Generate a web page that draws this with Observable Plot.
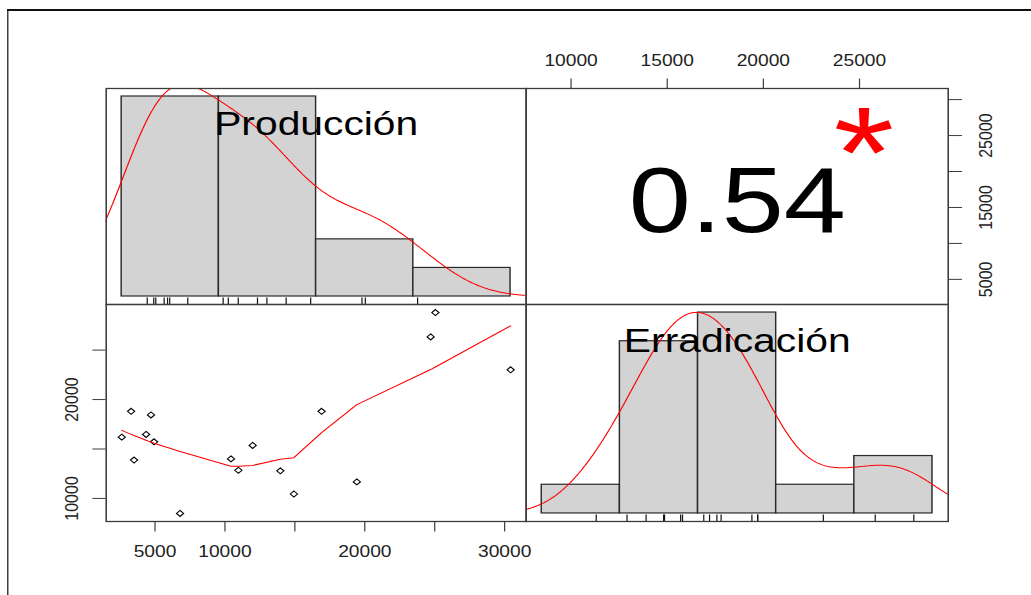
<!DOCTYPE html>
<html>
<head>
<meta charset="utf-8">
<script src="https://cdn.jsdelivr.net/npm/d3@7"></script>
<script src="https://cdn.jsdelivr.net/npm/@observablehq/plot@0.6"></script>
<style>
  html, body { margin: 0; padding: 0; background: #fff; width: 1031px; height: 595px; overflow: hidden; }
  #stage { position: absolute; left: 0; top: 0; width: 860px; height: 595px; transform: scaleX(1.2); transform-origin: 0 0; }
  #outer { position: absolute; left: 5.6px; top: 9px; width: 1000px; height: 800px; border-left: 1.5px solid #111; border-top: 2px solid #111; }
  #stage svg { position: absolute; overflow: visible; max-width: none; }
</style>
</head>
<body>
<div id="stage"><div id="outer"></div></div>
<script>
// ---------------- data ----------------
const variables = ["Producción", "Erradicación"];
const produccion   = [2620, 3290, 3500, 4360, 4710, 4930, 6790, 10430, 10960, 11980, 13960, 14930, 16910, 19430, 24710, 25050, 30430];
const erradicacion = [16200, 18810, 13880, 16470, 18440, 15730, 8480, 14000, 12850, 15360, 12790, 10450, 18810, 11670, 26330, 28800, 23010];
const produccionBreaks   = [0, 10000, 20000, 30000, 40000];
const erradicacionBreaks = [5000, 10000, 15000, 20000, 25000, 30000];
const correlationText = "0.54";
const significanceText = "*";
// axis ticks and the labels R kept
const bottomTicks  = [5000, 10000, 15000, 20000, 25000, 30000];
const bottomLabels = [5000, 10000, 20000, 30000];
const leftTicks    = [10000, 15000, 20000, 25000];
const leftLabels   = [10000, 20000];
const topTicks     = [10000, 15000, 20000, 25000];
const topLabels    = [10000, 15000, 20000, 25000];
const rightTicks   = [5000, 10000, 15000, 20000, 25000, 30000];
const rightLabels  = [5000, 15000, 25000];

// ---------------- helpers (R defaults) ----------------
const ext4 = ([a, b]) => [a - 0.04 * (b - a), b + 0.04 * (b - a)];

function histBins(values, breaks) {
  const n = values.length;
  return d3.range(breaks.length - 1).map(i => {
    const a = breaks[i], b = breaks[i + 1];
    const c = values.filter(v => (i === 0 ? v >= a : v > a) && v <= b).length;
    return {x1: a, x2: b, density: c / (n * (b - a))};
  });
}

function kde(values, m = 512) {
  const sd = d3.deviation(values);
  const iqr = d3.quantile(values, 0.75) - d3.quantile(values, 0.25);
  const bw = 0.9 * Math.min(sd, iqr / 1.34) * Math.pow(values.length, -0.2);
  const [mn, mx] = d3.extent(values);
  const from = mn - 3 * bw, to = mx + 3 * bw;
  return d3.range(m).map(i => {
    const x = from + i * (to - from) / (m - 1);
    const y = d3.mean(values, v => Math.exp(-0.5 * ((x - v) / bw) ** 2)) / (bw * Math.sqrt(2 * Math.PI));
    return {x, y};
  });
}

function lowess(xs, ys, f = 2 / 3, iter = 3) {
  const idx = d3.range(xs.length).sort((a, b) => xs[a] - xs[b]);
  const x = idx.map(i => xs[i]), y = idx.map(i => ys[i]);
  const n = x.length;
  const delta = 0.01 * (x[n - 1] - x[0]);
  const ns = Math.max(2, Math.min(n, Math.floor(f * n + 1e-7)));
  const fit = new Array(n).fill(0), res = new Array(n).fill(0), rw = new Array(n).fill(1), w = new Array(n).fill(0);
  function lowest(xs0, nleft, nright, userw) {
    const range = x[n - 1] - x[0];
    const h = Math.max(xs0 - x[nleft], x[nright] - xs0);
    const h9 = 0.999 * h, h1 = 0.001 * h;
    let a = 0, j = nleft;
    while (j < n) {
      w[j] = 0;
      const r = Math.abs(x[j] - xs0);
      if (r <= h9) {
        w[j] = r <= h1 ? 1 : Math.pow(1 - Math.pow(r / h, 3), 3);
        if (userw) w[j] *= rw[j];
        a += w[j];
      } else if (x[j] > xs0) break;
      j++;
    }
    const nrt = j - 1;
    if (a <= 0) return null;
    for (j = nleft; j <= nrt; j++) w[j] /= a;
    if (h > 0) {
      a = 0;
      for (j = nleft; j <= nrt; j++) a += w[j] * x[j];
      let b = xs0 - a, c = 0;
      for (j = nleft; j <= nrt; j++) c += w[j] * (x[j] - a) * (x[j] - a);
      if (Math.sqrt(c) > 0.001 * range) {
        b /= c;
        for (j = nleft; j <= nrt; j++) w[j] *= (b * (x[j] - a) + 1);
      }
    }
    let s = 0;
    for (j = nleft; j <= nrt; j++) s += w[j] * y[j];
    return s;
  }
  for (let it = 1; it <= iter + 1; it++) {
    let nleft = 0, nright = ns - 1, last = -1, i = 0;
    for (;;) {
      if (nright < n - 1) {
        const d1 = x[i] - x[nleft], d2 = x[nright + 1] - x[i];
        if (d1 > d2) { nleft++; nright++; continue; }
      }
      const v = lowest(x[i], nleft, nright, it > 1);
      fit[i] = v === null ? y[i] : v;
      if (last < i - 1) {
        const denom = x[i] - x[last];
        for (let j = last + 1; j < i; j++) {
          const alpha = (x[j] - x[last]) / denom;
          fit[j] = alpha * fit[i] + (1 - alpha) * fit[last];
        }
      }
      last = i;
      const cut = x[last] + delta;
      for (i = last + 1; i < n; i++) {
        if (x[i] > cut) break;
        if (x[i] === x[last]) { fit[i] = fit[last]; last = i; }
      }
      i = Math.max(last + 1, i - 1);
      if (last >= n - 1) break;
    }
    for (let k = 0; k < n; k++) res[k] = y[k] - fit[k];
    const sc = d3.sum(res, r => Math.abs(r)) / n;
    if (it > iter) break;
    const ar = res.map(Math.abs).sort((a, b) => a - b);
    const m1 = Math.floor(n / 2);
    const cmad = n % 2 === 0 ? 3 * (ar[m1 - 1] + ar[m1]) : 6 * ar[m1];
    if (cmad < 1e-7 * sc) break;
    const c9 = 0.999 * cmad, c1 = 0.001 * cmad;
    for (let k = 0; k < n; k++) {
      const r = Math.abs(res[k]);
      rw[k] = r <= c1 ? 1 : r <= c9 ? Math.pow(1 - Math.pow(r / cmad, 2), 2) : 0;
    }
  }
  return x.map((xv, k) => ({x: xv, y: fit[k]}));
}

// ---------------- layout (unstretched px; the stage is stretched 1.2x horizontally) ----------------
const PL = 87.5, PM = 437.5, PR = 789.2, PT = 88, PY = 304, PB = 521;
const FONT = "Liberation Sans, Arial, sans-serif";
const BOX = "#3c3c3c";
const stage = document.getElementById("stage");

function place(svg, left, top) {
  svg.style.left = left + "px";
  svg.style.top = top + "px";
  svg.style.background = "transparent";
  stage.appendChild(svg);
}

const prodDom = ext4(d3.extent(produccion));
const errDom = ext4(d3.extent(erradicacion));
const fmt = d => String(d);

function histPanel(values, breaks, label, left, top, width, height) {
  const bins = histBins(values, breaks);
  const maxD = d3.max(bins, d => d.density);
  const xDom = ext4([breaks[0], breaks[breaks.length - 1]]);
  const yDom = ext4([0, maxD]);
  const dens = kde(values);
  const svg = Plot.plot({
    width, height, margin: 0,
    style: {fontFamily: FONT, overflow: "visible", background: "transparent"},
    x: {domain: xDom, axis: null},
    y: {domain: yDom, axis: null},
    marks: [
      Plot.rect(bins, {x1: "x1", x2: "x2", y1: 0, y2: "density", fill: "#D3D3D3", stroke: "#2a2a2a", strokeWidth: 1.2}),
      Plot.line(dens, {x: "x", y: "y", stroke: "#FF0000", strokeWidth: 1, clip: true}),
      Plot.ruleX(values, {x: d => d, y1: yDom[0], y2: yDom[0] + 0.03 * (yDom[1] - yDom[0]), stroke: "#111", strokeWidth: 1}),
      Plot.text([label], {x: (xDom[0] + xDom[1]) / 2, y: yDom[0] + (5 / 6) * (yDom[1] - yDom[0]),
        text: d => d, fontSize: 34, fill: "#000", lineAnchor: "middle", textAnchor: "middle", fontFamily: FONT}),
      Plot.frame({stroke: BOX, strokeWidth: 1.3})
    ]
  });
  place(svg, left, top);
}

// top-left: histogram of Producción
histPanel(produccion, produccionBreaks, variables[0], PL, PT, PM - PL, PY - PT);

// bottom-right: histogram of Erradicación
histPanel(erradicacion, erradicacionBreaks, variables[1], PM, PY, PR - PM, PB - PY);

// top-right: correlation text, top axis (Erradicación) and right axis (Producción)
{
  const mT = 45, mR = 50, w = PR - PM, h = PY - PT;
  const frac = (dom, f) => dom[0] + f * (dom[1] - dom[0]);
  const svg = Plot.plot({
    width: w + mR, height: h + mT, marginTop: mT, marginRight: mR, marginLeft: 0, marginBottom: 0,
    style: {fontFamily: FONT, overflow: "visible", background: "transparent"},
    x: {domain: errDom},
    y: {domain: prodDom},
    marks: [
      Plot.axisX(topTicks, {anchor: "top", tickSize: 10.5, tickPadding: 12, fontSize: 16, fill: "#222", stroke: BOX,
        tickFormat: d => topLabels.includes(d) ? fmt(d) : "", label: null}),
      Plot.axisY(rightTicks, {anchor: "right", tickSize: 11, tickFormat: () => "", stroke: BOX, label: null}),
      Plot.text(rightLabels, {y: d => d, frameAnchor: "right", dx: 31, rotate: -90, text: fmt,
        fontSize: 16, fill: "#222", textAnchor: "middle", lineAnchor: "middle"}),
      Plot.text([correlationText], {x: frac(errDom, 0.5), y: frac(prodDom, 0.5), text: d => d, fontSize: 93,
        fill: "#000", textAnchor: "middle", lineAnchor: "middle", dy: 6}),
      Plot.text([significanceText], {x: frac(errDom, 0.8), y: frac(prodDom, 0.8), text: d => d, fontSize: 130,
        fill: "#FF0000", textAnchor: "middle", lineAnchor: "middle", dy: 25}),
      Plot.frame({stroke: BOX, strokeWidth: 1.3})
    ]
  });
  place(svg, PM, PT - mT);
}

// bottom-left: scatter with lowess, bottom axis (Producción) and left axis (Erradicación)
{
  const mL = 50, mB = 45, w = PM - PL, h = PB - PY;
  const pts = produccion.map((p, i) => ({p, e: erradicacion[i]}));
  const smooth = lowess(produccion, erradicacion);
  const svg = Plot.plot({
    width: w + mL, height: h + mB, marginLeft: mL, marginBottom: mB, marginTop: 0, marginRight: 0,
    style: {fontFamily: FONT, overflow: "visible", background: "transparent"},
    x: {domain: prodDom},
    y: {domain: errDom},
    marks: [
      Plot.axisX(bottomTicks, {anchor: "bottom", tickSize: 10.5, tickPadding: 13.5, fontSize: 16, fill: "#222", stroke: BOX,
        tickFormat: d => bottomLabels.includes(d) ? fmt(d) : "", label: null}),
      Plot.axisY(leftTicks, {anchor: "left", tickSize: 11, tickFormat: () => "", stroke: BOX, label: null}),
      Plot.text(leftLabels, {y: d => d, frameAnchor: "left", dx: -29, rotate: -90, text: fmt,
        fontSize: 16, fill: "#222", textAnchor: "middle", lineAnchor: "middle"}),
      Plot.dot(pts, {x: "p", y: "e", symbol: "diamond2", r: 2.7, stroke: "#000", strokeWidth: 1, fill: "none"}),
      Plot.line(smooth, {x: "x", y: "y", stroke: "#FF0000", strokeWidth: 1}),
      Plot.frame({stroke: BOX, strokeWidth: 1.3})
    ]
  });
  place(svg, PL - mL, PY);
}
</script>
</body>
</html>
